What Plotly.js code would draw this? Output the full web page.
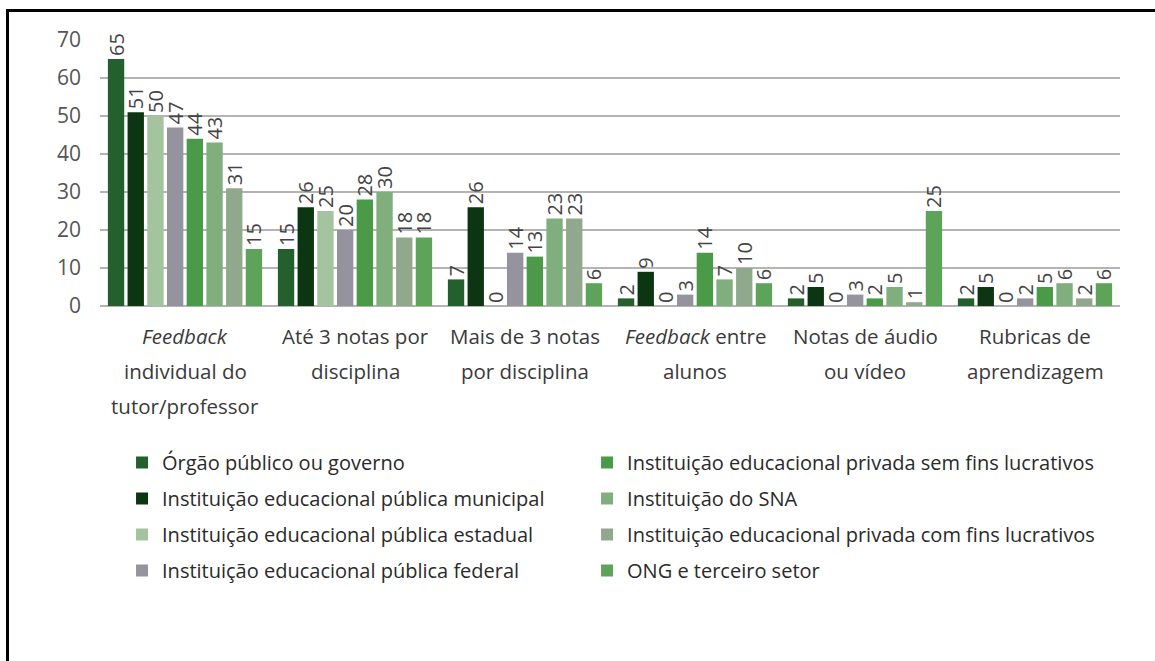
<!DOCTYPE html>
<html>
<head>
<meta charset="utf-8">
<script src="https://cdn.plot.ly/plotly-3.0.1.min.js"></script>
<style>
  html, body { margin: 0; padding: 0; background: #ffffff; }
  #chart { width: 1155px; height: 661px; }
  #frame { position: absolute; left: 6px; top: 9px; width: 1200px; height: 700px;
           border-top: 3px solid #000; border-left: 3px solid #000; pointer-events: none; }
</style>
</head>
<body>
<div id="chart"></div>
<div id="frame"></div>
<script>
const categories = [
  "<i>Feedback</i><br>individual do<br>tutor/professor",
  "Até 3 notas por<br>disciplina",
  "Mais de 3 notas<br>por disciplina",
  "<i>Feedback</i> entre<br>alunos",
  "Notas de áudio<br>ou vídeo",
  "Rubricas de<br>aprendizagem"
];

const seriesNames = [
  "Órgão público ou governo",
  "Instituição educacional pública municipal",
  "Instituição educacional pública estadual",
  "Instituição educacional pública federal",
  "Instituição educacional privada sem fins lucrativos",
  "Instituição do SNA",
  "Instituição educacional privada com fins lucrativos",
  "ONG e terceiro setor"
];

const orgaoPublico      = [65, 15, 7, 2, 2, 2];
const publicaMunicipal  = [51, 26, 26, 9, 5, 5];
const publicaEstadual   = [50, 25, 0, 0, 0, 0];
const publicaFederal    = [47, 20, 14, 3, 3, 2];
const privadaSemFins    = [44, 28, 13, 14, 2, 5];
const instituicaoSNA    = [43, 30, 23, 7, 5, 6];
const privadaComFins    = [31, 18, 23, 10, 1, 2];
const ongTerceiroSetor  = [15, 18, 6, 6, 25, 6];

const seriesValues = [orgaoPublico, publicaMunicipal, publicaEstadual, publicaFederal,
                      privadaSemFins, instituicaoSNA, privadaComFins, ongTerceiroSetor];

const colors = ["#23602d", "#0c3512", "#a3c49f", "#95939d",
                "#4b9a48", "#80ae7c", "#90a98c", "#5ea35a"];

const yTicks = [0, 10, 20, 30, 40, 50, 60, 70];

const FONT = "Open Sans, Noto Sans, sans-serif";

const traces = seriesValues.map((vals, i) => ({
  type: "bar",
  name: seriesNames[i],
  x: categories,
  y: vals,
  marker: { color: colors[i] },
  text: vals.map(String),
  textposition: "outside",
  textangle: -90,
  constraintext: "none",
  cliponaxis: false,
  textfont: { family: FONT, size: 20, color: "#444" },
  legend: i < 4 ? "legend" : "legend2",
  legendgroup: "g" + i,
  hoverinfo: "skip"
}));

const annotations = [];
categories.forEach(cat => {
  cat.split("<br>").forEach((line, j) => {
    annotations.push({
      x: cat, xref: "x",
      y: 0, yref: "paper",
      yanchor: "middle", xanchor: "center",
      yshift: -30 - j * 35,
      text: line,
      showarrow: false,
      font: { family: FONT, size: 20.5, color: "#3a3a3a" }
    });
  });
});

const legendCommon = {
  orientation: "v",
  yanchor: "top",
  y: -0.515,
  bgcolor: "rgba(0,0,0,0)",
  font: { family: FONT, size: 20, color: "#2a2a2a" },
  tracegroupgap: 7,
  itemclick: false
};

const layout = {
  width: 1155, height: 661,
  margin: { l: 100, r: 35, t: 40, b: 355 },
  paper_bgcolor: "#ffffff",
  plot_bgcolor: "#ffffff",
  barmode: "group",
  bargap: 0.073,
  bargroupgap: 0.17,
  showlegend: true,
  legend: Object.assign({}, legendCommon, { x: 0.0216 }),
  legend2: Object.assign({}, legendCommon, { x: 0.4775 }),
  xaxis: {
    type: "category",
    showticklabels: false,
    showgrid: false,
    zeroline: false,
    showline: false,
    ticks: ""
  },
  yaxis: {
    range: [0, 70],
    tickvals: yTicks,
    ticktext: yTicks.map(String),
    showgrid: true,
    gridcolor: "#b4b4b4",
    gridwidth: 2,
    zeroline: true,
    zerolinecolor: "#b4b4b4",
    zerolinewidth: 2,
    showline: false,
    ticks: "",
    ticklabelstandoff: 18,
    tickfont: { family: FONT, size: 21, color: "#555" }
  },
  annotations: annotations
};

Plotly.newPlot("chart", traces, layout, { displayModeBar: false, staticPlot: true });
</script>
</body>
</html>
